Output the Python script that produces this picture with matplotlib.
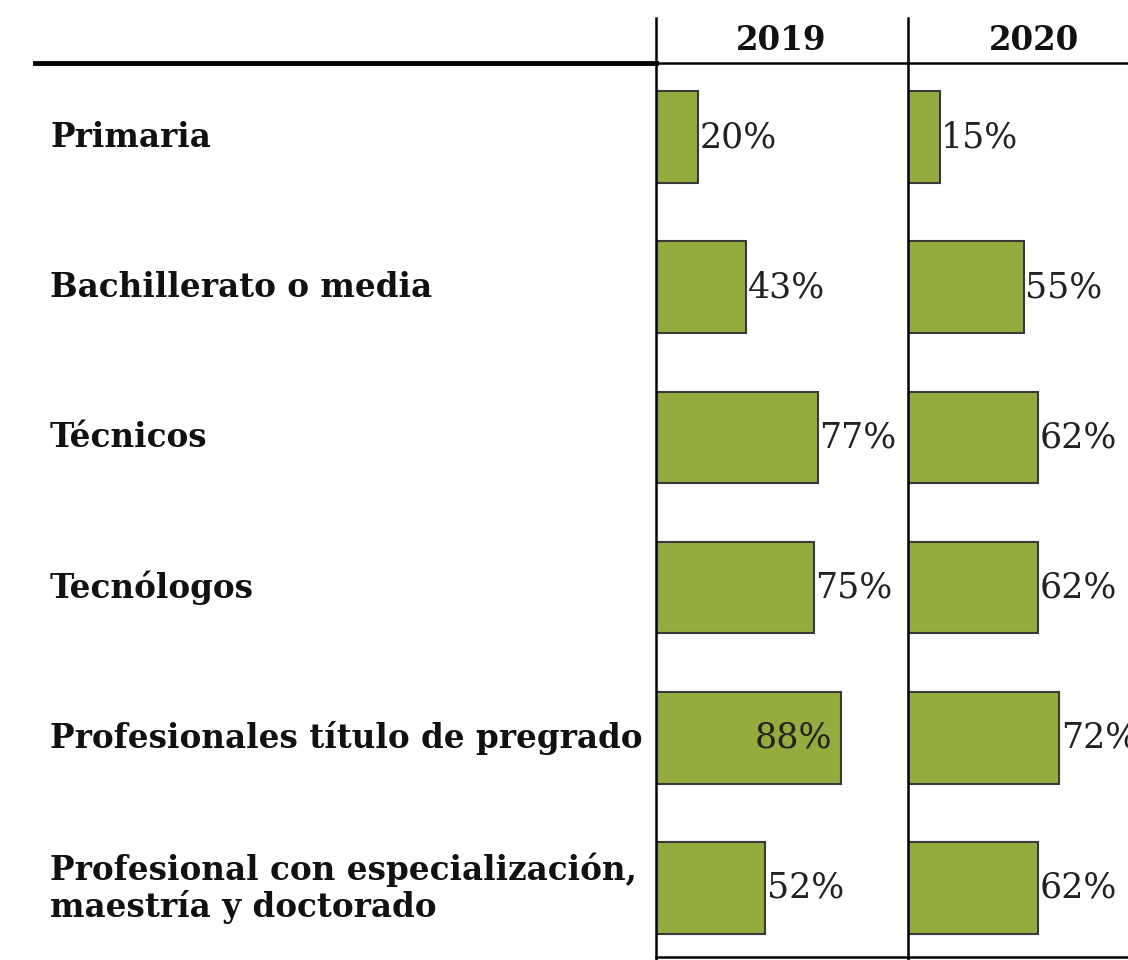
import matplotlib
matplotlib.use('Agg')
import matplotlib.pyplot as plt
from matplotlib.lines import Line2D
from matplotlib.transforms import blended_transform_factory

categories = ['Primaria', 'Bachillerato o media', 'Técnicos', 'Tecnólogos',
              'Profesionales título de pregrado',
              'Profesional con especialización,\nmaestría y doctorado']
years = ['2019', '2020']
vals_2019 = [20, 43, 77, 75, 88, 52]
vals_2020 = [15, 55, 62, 62, 72, 62]

W, H = 1128, 960
bar_color = '#92ac3e'
edge_color = '#3a3a3a'
serif = ['DejaVu Serif']

fig = plt.figure(figsize=(W / 100, H / 100), dpi=100)

px = 2.1  # pixels per percent
cols = [(656, 908), (908, W)]
axes = []
for (x0, x1), vals in zip(cols, [vals_2019, vals_2020]):
    ax = fig.add_axes([x0 / W, 3 / H, (x1 - x0) / W, (957 - 63) / H])
    ax.barh(range(len(vals)), vals, height=0.61, color=bar_color,
            edgecolor=edge_color, linewidth=1.5, zorder=3)
    ax.set_xlim(0, (x1 - x0) / px)
    ax.set_ylim(5.46, -0.493)
    for i, v in enumerate(vals):
        if v >= 85:
            ax.text(v - 4, i, f'{v}%', ha='right', va='center',
                    fontsize=25, family=serif, color='#222222')
        else:
            ax.text(v + 0.8, i, f'{v}%', ha='left', va='center',
                    fontsize=25, family=serif, color='#222222', clip_on=False)
    ax.axis('off')
    axes.append(ax)

# category labels
tr = blended_transform_factory(fig.transFigure, axes[0].transData)
for i, c in enumerate(categories):
    fig.text(50 / W, i, c, transform=tr, ha='left', va='center',
             fontsize=23.5, fontweight='bold', family=serif, color='#111111',
             linespacing=1.1)

# year headers
for xc, y in zip((781, 1034), years):
    fig.text(xc / W, 1 - 41 / H, y, ha='center', va='center', fontsize=23.5,
             fontweight='bold', family=serif, color='#111111')

# table rules
fig.add_artist(Line2D([35 / W, 656 / W], [1 - 63 / H] * 2, color='black', lw=3.5))
fig.add_artist(Line2D([656 / W, 1], [1 - 63 / H] * 2, color='black', lw=1.8))
fig.add_artist(Line2D([656 / W, 1], [1 - 957 / H] * 2, color='black', lw=1.8))
for x in (656, 908):
    fig.add_artist(Line2D([x / W] * 2, [1 - 18 / H, 0], color='black', lw=1.8))

fig.savefig('out.png', dpi=100, facecolor='white')
